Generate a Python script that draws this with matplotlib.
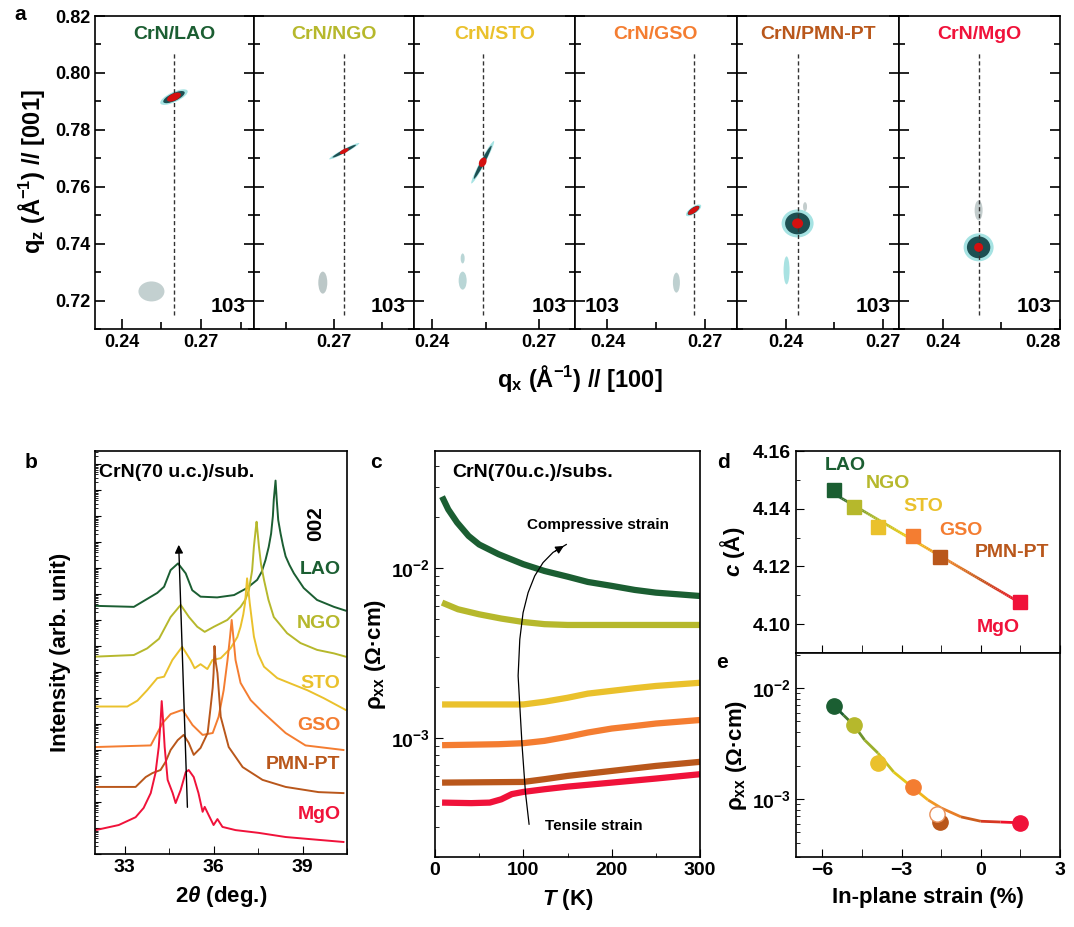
import numpy as np
import matplotlib
matplotlib.use("Agg")
import matplotlib.pyplot as plt
from matplotlib.patches import Ellipse
from matplotlib.transforms import ScaledTranslation
from matplotlib.collections import LineCollection
from matplotlib.colors import LinearSegmentedColormap
from matplotlib.ticker import MultipleLocator, FixedLocator, LogLocator, NullFormatter, FormatStrFormatter

plt.rcParams['font.family'] = ['Liberation Sans Narrow', 'Liberation Sans', 'DejaVu Sans']
plt.rcParams['font.weight'] = 'bold'
plt.rcParams['axes.labelweight'] = 'bold'
plt.rcParams['mathtext.fontset'] = 'custom'
plt.rcParams['mathtext.rm'] = 'Liberation Sans:bold'
plt.rcParams['mathtext.it'] = 'Liberation Sans:italic:bold'
plt.rcParams['mathtext.bf'] = 'Liberation Sans:bold'
plt.rcParams['xtick.direction'] = 'in'
plt.rcParams['ytick.direction'] = 'in'
plt.rcParams['axes.linewidth'] = 1.2

# ---------------- data ----------------
substrates = ['LAO', 'NGO', 'STO', 'GSO', 'PMN-PT', 'MgO']
colors = ['#1b5e32', '#b6b82c', '#eac12c', '#f47d31', '#b9571b', '#f0123a']

# a: reciprocal space maps around 103
film_qx = [0.2598, 0.2732, 0.2542, 0.2666, 0.2437, 0.2522]
film_qz = [0.7915, 0.7725, 0.7686, 0.7517, 0.7471, 0.7387]
sub_qx = [0.2513, 0.2665, 0.2486, 0.2613, 0.2403, 0.2522]
sub_qz = [0.7232, 0.7263, 0.7270, 0.7263, 0.7306, 0.7517]
qx_lims = [(0.23, 0.29), (0.245, 0.295), (0.235, 0.28), (0.23, 0.28), (0.225, 0.275), (0.225, 0.28)]
qx_major = [[0.24, 0.27], [0.27], [0.24, 0.27], [0.24, 0.27], [0.24, 0.27], [0.24, 0.28]]
qx_minor = [[0.255, 0.285], [0.255, 0.285], [0.255], [0.255], [0.255], [0.26]]

# b: XRD 2theta scans (offset, log intensity)
tt_lao = [32.02, 33.31, 34.10, 34.33, 34.55, 34.80, 35.06, 35.28, 35.56, 36.12, 36.69, 37.13, 37.47,
          37.62, 37.75, 37.86, 37.94, 38.00, 38.03, 38.09, 38.13, 38.18, 38.26, 38.34, 38.43, 38.56,
          38.71, 39.04, 39.49, 40.06, 40.45]
I_lao = [3.5e9, 3.2e9, 1.1e10, 1.9e10, 8.3e10, 1.5e11, 6.2e10, 1.4e10, 7.9e9, 7.4e9, 9.1e9, 1.7e10,
         3.5e10, 7.0e10, 2.0e11, 6.5e11, 2.1e12, 1.0e13, 4.2e13, 2.3e14, 4.2e13, 7.0e12, 2.1e12,
         7.5e11, 2.8e11, 1.3e11, 6.2e10, 1.7e10, 5.9e9, 3.2e9, 2.3e9]
tt_ngo = [32.02, 33.31, 33.76, 34.16, 34.55, 34.89, 35.17, 35.45, 35.70, 36.01, 36.46, 36.91, 37.07,
          37.19, 37.30, 37.36, 37.42, 37.45, 37.49, 37.53, 37.60, 37.70, 37.85, 38.03, 38.48, 38.93,
          39.49, 40.06, 40.45]
I_ngo = [3.9e7, 4.5e7, 8.1e7, 1.9e8, 1.3e9, 3.8e9, 1.3e9, 5.5e8, 3.5e8, 5.5e8, 1.0e9, 3.2e9, 6.0e9,
         1.4e10, 8.0e10, 6.6e11, 3.0e12, 6.0e12, 2.0e12, 6.6e11, 1.4e11, 3.5e10, 6.0e9, 1.3e9,
         3.1e8, 1.3e8, 7.1e7, 5.2e7, 3.9e7]
tt_sto = [32.02, 33.09, 33.43, 33.76, 34.10, 34.33, 34.61, 34.94, 35.22, 35.36, 35.56, 35.79, 35.96,
          36.24, 36.57, 36.80, 36.91, 37.00, 37.06, 37.13, 37.18, 37.22, 37.29, 37.36, 37.50, 37.70,
          38.15, 38.60, 39.16, 39.72, 40.45]
I_sto = [4.7e5, 4.7e5, 7.9e5, 2.0e6, 5.8e6, 6.6e6, 2.9e7, 9.3e7, 2.9e7, 1.4e7, 2.0e7, 1.3e7, 2.9e7,
         3.4e7, 8.1e7, 2.2e8, 5.5e8, 1.6e9, 4.4e9, 4.0e10, 1.2e10, 4.4e9, 1.0e9, 2.3e8, 5.0e7, 1.6e7,
         5.8e6, 3.6e6, 2.0e6, 9.8e5, 3.5e5]
tt_gso = [32.02, 33.88, 34.28, 34.55, 34.95, 35.29, 35.63, 35.97, 36.17, 36.34, 36.47, 36.55, 36.61,
          36.67, 36.74, 36.91, 37.25, 37.65, 38.43, 39.10, 40.38]
I_gso = [1.3e4, 1.5e4, 1.1e5, 2.4e5, 3.5e5, 9.1e4, 3.8e4, 4.5e4, 1.9e5, 2.0e6, 2.9e7, 2.0e8, 1.0e9,
         2.0e8, 2.9e7, 3.8e6, 8.3e5, 2.9e5, 4.5e4, 1.5e4, 1.0e4]
tt_pmn = [32.02, 33.37, 33.71, 33.94, 34.21, 34.38, 34.55, 34.79, 34.99, 35.16, 35.33, 35.56, 35.80,
          35.90, 35.97, 36.00, 36.03, 36.07, 36.13, 36.24, 36.51, 36.98, 37.65, 38.43, 39.54, 40.38]
I_pmn = [380, 380, 910, 1300, 1700, 3500, 1.0e4, 2.4e4, 3.8e4, 1.9e4, 6.5e3, 1.2e4, 4.5e4,
         4.5e5, 2.5e6, 9.1e6, 1.0e8, 2.5e7, 9.1e6, 1.9e5, 1.3e4, 2.2e3, 710, 380, 240, 220]
tt_mgo = [32.02, 32.80, 33.37, 33.64, 33.88, 34.04, 34.15, 34.21, 34.25, 34.30, 34.35, 34.45, 34.62,
          34.72, 34.89, 35.06, 35.16, 35.33, 35.49, 35.63, 35.70, 35.83, 36.00, 36.13, 36.30, 36.74,
          37.52, 38.43, 39.54, 40.38]
I_mgo = [8.3, 13, 26, 59, 220, 1300, 1.3e4, 1.2e5, 7.6e5, 1.2e5, 1.3e4, 710, 220, 91, 290, 1400,
         1700, 910, 220, 42, 65, 32, 13, 22, 11, 8.3, 6.5, 4.5, 3.5, 2.9]
xrd_tt = [tt_lao, tt_ngo, tt_sto, tt_gso, tt_pmn, tt_mgo]
xrd_I = [I_lao, I_ngo, I_sto, I_gso, I_pmn, I_mgo]

# c: resistivity vs temperature
T_lao = [8, 15, 25, 38, 50, 72, 100, 124, 150, 173, 200, 226, 250, 275, 300]
rho_lao = [0.0264, 0.0222, 0.0186, 0.0155, 0.0138, 0.0121, 0.01057, 0.00964, 0.00893, 0.00831,
           0.00788, 0.00746, 0.00719, 0.00703, 0.00687]
T_ngo = [8, 26, 50, 75, 100, 124, 150, 200, 300]
rho_ngo = [0.00628, 0.00574, 0.00536, 0.00506, 0.00483, 0.00469, 0.00464, 0.00464, 0.00464]
T_sto = [8, 100, 124, 150, 173, 200, 226, 250, 300]
rho_sto = [0.00158, 0.00158, 0.00164, 0.00173, 0.00183, 0.0019, 0.00197, 0.00203, 0.00212]
T_gso = [8, 72, 100, 124, 150, 173, 200, 226, 250, 300]
rho_gso = [0.00091, 0.000922, 0.000935, 0.000965, 0.00102, 0.00108, 0.00114, 0.00118, 0.00122, 0.00128]
T_pmn = [8, 100, 124, 150, 200, 250, 300]
rho_pmn = [0.000548, 0.000553, 0.000574, 0.0006, 0.000642, 0.000687, 0.000726]
T_mgo = [8, 41, 62, 75, 87, 100, 124, 150, 200, 250, 300]
rho_mgo = [0.000418, 0.000415, 0.000418, 0.000437, 0.000469, 0.000483, 0.000501, 0.000519,
           0.000548, 0.000579, 0.000614]
rt_T = [T_lao, T_ngo, T_sto, T_gso, T_pmn, T_mgo]
rt_rho = [rho_lao, rho_ngo, rho_sto, rho_gso, rho_pmn, rho_mgo]
arrow_T = [106.5, 102.4, 98.6, 96.0, 94.1, 96.0, 99.7, 105.4, 112.9, 122.3, 133.6, 148.6]
arrow_rho = [3.12e-4, 4.79e-4, 9.02e-4, 1.55e-3, 2.33e-3, 3.82e-3, 5.48e-3, 7.19e-3, 9.02e-3,
             1.08e-2, 1.24e-2, 1.38e-2]

# d, e: vs in-plane strain
strain = [-5.55, -4.8, -3.9, -2.58, -1.55, 1.48]
c_lat = [4.1466, 4.1407, 4.1338, 4.1307, 4.1234, 4.1076]
rho_300 = [0.00689, 0.00464, 0.00211, 0.00128, 0.00062, 0.00061]
open_strain = [-1.65]
open_rho = [0.00073]
fit_strain = [-5.55, -5.2, -4.8, -4.4, -3.9, -3.3, -2.6, -2.0, -1.5, -0.75, 0, 0.75, 1.5]
fit_rho = [0.0069, 0.0057, 0.0046, 0.0034, 0.0026, 0.00175, 0.00128, 0.00098, 0.00083, 0.00069,
           0.00063, 0.00062, 0.00061]

W, H = 1074, 927
fig = plt.figure(figsize=(W / 100, H / 100), dpi=100)


def box(x0, y0, x1, y1):
    return [x0 / W, 1 - y1 / H, (x1 - x0) / W, (y1 - y0) / H]


def spot(ax, x, y, w, h, ang, color, z=2):
    tr = fig.dpi_scale_trans + ScaledTranslation(x, y, ax.transData)
    ax.add_patch(Ellipse((0, 0), w / 100, h / 100, angle=ang, facecolor=color,
                         edgecolor='none', transform=tr, zorder=z))


# film spot shapes (outer w, h, angle) in pixels
film_shape = [(30, 10, 25), (34, 4, 28), (48, 5, 62), (18, 7, 35), (32, 28, 0), (30, 28, 0)]
core_shape = [(15, 7, 25), (10, 4, 28), (10, 7, 62), (13, 5, 35), (11, 10, 0), (9, 9, 0)]
sub_shape = [(26, 20, 0), (9, 22, 0), (8, 18, 0), (7, 20, 0), (6, 28, 0), (8, 20, 0)]
sub_color = ['#c3d0d0', '#bcc8c8', '#b9d6d6', '#bed0d0', '#a9e2e2', '#c3cdcd']

# ---------------- panel a ----------------
edges = [95, 254, 414, 575, 737, 899, 1060]
for i in range(6):
    ax = fig.add_axes(box(edges[i], 16, edges[i + 1], 329))
    ax.set_xlim(*qx_lims[i])
    ax.set_ylim(0.71, 0.82)
    ax.xaxis.set_major_locator(FixedLocator(qx_major[i]))
    ax.xaxis.set_minor_locator(FixedLocator(qx_minor[i]))
    ax.xaxis.set_major_formatter(FormatStrFormatter('%.2f'))
    ax.yaxis.set_major_locator(MultipleLocator(0.02))
    ax.yaxis.set_minor_locator(MultipleLocator(0.01))
    ax.yaxis.set_major_formatter(FormatStrFormatter('%.2f'))
    ax.tick_params(which='both', left=True, right=True, labelsize=13)
    ax.tick_params(which='major', length=7, width=1.2)
    ax.tick_params(which='minor', length=4, width=1.2)
    ax.tick_params(axis='x', which='minor', length=5)
    if i > 0:
        ax.tick_params(labelleft=False)
    ax.plot([film_qx[i], film_qx[i]], [0.715, 0.807], ls=(0, (3, 2)), color='#333333', lw=1, zorder=3)
    sw, sh, sa = sub_shape[i]
    spot(ax, sub_qx[i], sub_qz[i], sw, sh, sa, sub_color[i])
    if i == 2:
        spot(ax, 0.2486, 0.7348, 4, 10, 0, sub_color[i])
    if i == 4:
        spot(ax, 0.2460, 0.7530, 4, 9, 0, '#c3cdcd')
    fw, fh, fa = film_shape[i]
    spot(ax, film_qx[i], film_qz[i], fw, fh, fa, '#a6e3e3')
    spot(ax, film_qx[i], film_qz[i], fw * 0.78, fh * 0.78, fa, '#1d4f52')
    cw, ch, ca = core_shape[i]
    spot(ax, film_qx[i], film_qz[i], cw, ch, ca, '#d41010', z=4)
    ax.text(0.5, 0.94, 'CrN/' + substrates[i], transform=ax.transAxes, ha='center', va='center',
            color=colors[i], fontsize=14)
    if i == 3:
        ax.text(0.06, 0.04, '103', transform=ax.transAxes, ha='left', va='bottom', fontsize=15)
    else:
        ax.text(0.95, 0.04, '103', transform=ax.transAxes, ha='right', va='bottom', fontsize=15)
    if i == 5:
        # keep the last label inside the figure
        ax.xaxis.get_major_ticks()[-1].label1.set_horizontalalignment('right')

fig.text(32 / W, 1 - 172 / H, r'q$_{\mathrm{z}}$ (Å$^{-1}$) // [001]', rotation=90, ha='center',
         va='center', fontsize=17, fontweight='bold')
fig.text(580 / W, 1 - 378 / H, r'q$_{\mathrm{x}}$ (Å$^{-1}$) // [100]', ha='center', va='center',
         fontsize=17, fontweight='bold')

# ---------------- panel b ----------------
axb = fig.add_axes(box(95, 451, 347, 854))
for i in range(6):
    axb.plot(xrd_tt[i], xrd_I[i], color=colors[i], lw=1.4)
axb.set_yscale('log')
axb.set_ylim(1, 10 ** 15.5)
axb.set_xlim(32, 40.5)
axb.xaxis.set_major_locator(MultipleLocator(3))
axb.xaxis.set_minor_locator(MultipleLocator(1.5))
axb.yaxis.set_major_locator(LogLocator(base=10, numticks=30))
axb.yaxis.set_minor_locator(LogLocator(base=10, subs=np.arange(2, 10), numticks=300))
axb.yaxis.set_major_formatter(NullFormatter())
axb.yaxis.set_minor_formatter(NullFormatter())
axb.tick_params(which='major', length=4, labelsize=14)
axb.tick_params(which='minor', length=2)
axb.tick_params(axis='x', which='major', length=6)
axb.tick_params(axis='x', which='minor', length=4)
axb.annotate('', xy=(34.82, 1e12), xytext=(35.12, 10 ** 1.69),
             arrowprops=dict(arrowstyle='-|>', color='k', lw=1, mutation_scale=12))
label_y = [0.705, 0.573, 0.424, 0.32, 0.221, 0.097]
for i in range(6):
    axb.text(0.975, label_y[i], substrates[i], transform=axb.transAxes, ha='right', va='center',
             color=colors[i], fontsize=14)
axb.text(0.875, 0.82, '002', transform=axb.transAxes, rotation=90, ha='center', va='center', fontsize=15)
axb.text(0.015, 0.947, 'CrN(70 u.c.)/sub.', transform=axb.transAxes, ha='left', va='center', fontsize=14)
axb.set_xlabel(r'2$\it{\theta}$ (deg.)', fontsize=16, labelpad=6)
axb.set_ylabel('Intensity (arb. unit)', fontsize=16, labelpad=14)

# ---------------- panel c ----------------
axc = fig.add_axes(box(435, 451, 700, 857))
for i in range(6):
    axc.plot(rt_T[i], rt_rho[i], color=colors[i], lw=4.5, solid_capstyle='butt')
axc.set_yscale('log')
axc.set_xlim(0, 300)
axc.set_ylim(2.0e-4, 4.9e-2)
axc.plot(arrow_T, arrow_rho, color='k', lw=0.9)
axc.annotate('', xy=(arrow_T[-1], arrow_rho[-1]), xytext=(arrow_T[-2], arrow_rho[-2]),
             arrowprops=dict(arrowstyle='-|>', color='k', lw=0.9, mutation_scale=12))
axc.text(185, 0.0179, 'Compressive strain', ha='center', va='center', fontsize=11)
axc.text(180, 3.03e-4, 'Tensile strain', ha='center', va='center', fontsize=11)
axc.text(0.065, 0.946, 'CrN(70u.c.)/subs.', transform=axc.transAxes, ha='left', va='center', fontsize=14)
axc.xaxis.set_major_locator(MultipleLocator(100))
axc.xaxis.set_minor_locator(MultipleLocator(50))
axc.yaxis.set_minor_formatter(NullFormatter())
axc.tick_params(which='major', length=6, labelsize=14)
axc.tick_params(which='minor', length=3)
axc.set_xlabel(r'$\it{T}$ (K)', fontsize=16, labelpad=6)
axc.set_ylabel(r'ρ$_{\mathrm{xx}}$ (Ω·cm)', fontsize=16, labelpad=2)

# ---------------- panel d ----------------
grad = LinearSegmentedColormap.from_list('strain', ['#1b5e32', '#a8b82a', '#f2cc14', '#f08a2a',
                                                     '#c4541c', '#f0102a'])
axd = fig.add_axes(box(796, 451, 1060, 653))
coef = np.polyfit(strain, c_lat, 1)
xs = np.linspace(strain[0], strain[-1], 100)
pts = np.array([xs, np.polyval(coef, xs)]).T.reshape(-1, 1, 2)
lc = LineCollection(np.concatenate([pts[:-1], pts[1:]], axis=1), cmap=grad, linewidth=2)
lc.set_array(xs[:-1])
axd.add_collection(lc)
for i in range(6):
    axd.plot(strain[i], c_lat[i], 's', color=colors[i], ms=10, zorder=3)
axd.set_xlim(-7, 3)
axd.set_ylim(4.09, 4.16)
axd.xaxis.set_major_locator(MultipleLocator(3))
axd.xaxis.set_minor_locator(MultipleLocator(1.5))
axd.yaxis.set_major_locator(MultipleLocator(0.02))
axd.yaxis.set_minor_locator(MultipleLocator(0.01))
axd.yaxis.set_major_formatter(FormatStrFormatter('%.2f'))
axd.tick_params(which='major', length=6, labelsize=14)
axd.tick_params(which='minor', length=3)
axd.tick_params(axis='x', which='both', length=6, labelbottom=False)
d_lab = [(-5.14, 4.1551), (-3.52, 4.1489), (-2.19, 4.1406), (-0.75, 4.1326), (1.18, 4.1247), (0.65, 4.0987)]
for i in range(6):
    axd.text(d_lab[i][0], d_lab[i][1], substrates[i], color=colors[i], fontsize=14,
             ha='center', va='center')
axd.set_ylabel(r'$\it{c}$ (Å)', fontsize=16, labelpad=4)

# ---------------- panel e ----------------
axe = fig.add_axes(box(796, 653, 1060, 857))
fpts = np.array([fit_strain, np.log10(fit_rho)]).T
seg = np.stack([fpts[:-1], fpts[1:]], axis=1)
seg = np.concatenate([seg[:, :, :1], 10 ** seg[:, :, 1:]], axis=2)
lc2 = LineCollection(seg, cmap=grad, linewidth=2)
lc2.set_array(np.array(fit_strain[:-1]))
axe.add_collection(lc2)
for i in range(6):
    axe.plot(strain[i], rho_300[i], 'o', color=colors[i], ms=11, zorder=3)
axe.plot(open_strain, open_rho, 'o', mfc='white', mec='#e8905a', mew=1, ms=11, zorder=4)
axe.set_yscale('log')
axe.set_xlim(-7, 3)
axe.set_ylim(3.0e-4, 2.07e-2)
axe.xaxis.set_major_locator(MultipleLocator(3))
axe.xaxis.set_minor_locator(MultipleLocator(1.5))
axe.yaxis.set_minor_formatter(NullFormatter())
axe.tick_params(which='major', length=6, labelsize=14)
axe.tick_params(which='minor', length=3)
axe.tick_params(axis='x', which='minor', length=6)
axe.set_xlabel('In-plane strain (%)', fontsize=16, labelpad=6)
axe.set_ylabel(r'ρ$_{\mathrm{xx}}$ (Ω·cm)', fontsize=16, labelpad=2)

for s, (x, y) in zip('abcde', [(20, 14), (31, 462), (376, 462), (724, 462), (722, 662)]):
    fig.text(x / W, 1 - y / H, s, fontsize=15, ha='center', va='center', fontweight='bold')

fig.savefig('out.png', dpi=100)
